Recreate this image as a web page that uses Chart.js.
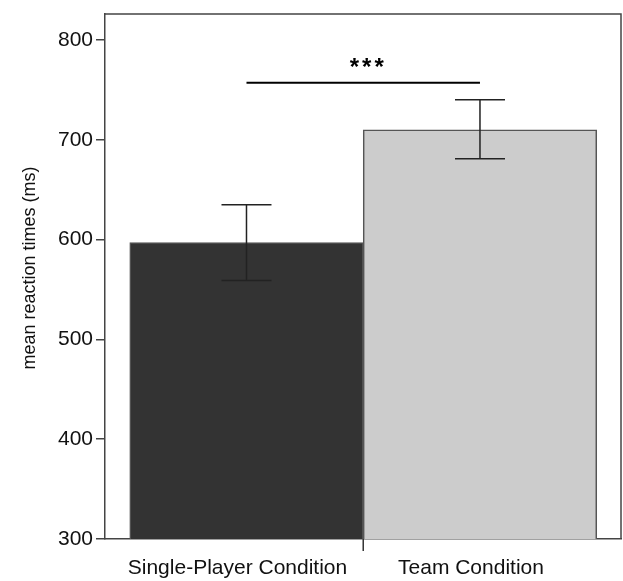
<!DOCTYPE html>
<html>
<head>
<meta charset="utf-8">
<script src="https://cdn.jsdelivr.net/npm/chart.js@4/dist/chart.umd.min.js"></script>
<style>
  html, body { margin: 0; padding: 0; background: #ffffff; }
  #wrap { width: 623px; height: 581px; position: relative; }
</style>
</head>
<body>
<div id="wrap"><canvas id="c" width="623" height="581"></canvas></div>
<script>
// Conditions and mean reaction times (ms) with error-bar limits
const categories = ['Single-Player Condition', 'Team Condition'];
const meanRT = [597, 710];
const errLower = [559, 681];
const errUpper = [635, 740];
const barColors = ['#333333', '#cccccc'];
const yTicks = [300, 400, 500, 600, 700, 800];
const yTitle = 'mean reaction times (ms)';
const sigLabel = '***';
const sigLevel = 757;
const sigLabelLevel = 776;

const FONT = "'Liberation Sans', Arial, Helvetica, sans-serif";
const FRAME = '#444444';

// Error bars, significance bracket, frame, divider tick and rotated axis title
const extras = {
  id: 'extras',
  afterDatasetsDraw(chart) {
    const { ctx, scales: { x, y }, chartArea } = chart;
    ctx.save();
    // error bars
    ctx.strokeStyle = '#222222';
    ctx.lineWidth = 1.5;
    meanRT.forEach((m, i) => {
      const px = x.getPixelForValue(i);
      const top = y.getPixelForValue(errUpper[i]);
      const bot = y.getPixelForValue(errLower[i]);
      ctx.beginPath();
      ctx.moveTo(px, top); ctx.lineTo(px, bot);
      ctx.moveTo(px - 25, top); ctx.lineTo(px + 25, top);
      ctx.moveTo(px - 25, bot); ctx.lineTo(px + 25, bot);
      ctx.stroke();
    });
    // significance line
    const sy = y.getPixelForValue(sigLevel);
    ctx.strokeStyle = '#000000';
    ctx.lineWidth = 2;
    ctx.beginPath();
    ctx.moveTo(x.getPixelForValue(0), sy);
    ctx.lineTo(x.getPixelForValue(1), sy);
    ctx.stroke();
    ctx.fillStyle = '#000000';
    ctx.font = 'bold 24px ' + FONT;
    ctx.letterSpacing = '3px';
    ctx.textAlign = 'center';
    ctx.textBaseline = 'middle';
    ctx.fillText(sigLabel, (x.getPixelForValue(0) + x.getPixelForValue(1)) / 2 + 5, y.getPixelForValue(sigLabelLevel) + 4);
    ctx.letterSpacing = '0px';
    // top and right frame lines
    ctx.strokeStyle = FRAME;
    ctx.lineWidth = 1.5;
    ctx.beginPath();
    ctx.moveTo(chartArea.left, chartArea.top);
    ctx.lineTo(chartArea.right, chartArea.top);
    ctx.lineTo(chartArea.right, chartArea.bottom);
    ctx.stroke();
    // divider tick between the two categories
    const mid = x.getPixelForValue(0.5);
    ctx.strokeStyle = '#333333';
    ctx.beginPath();
    ctx.moveTo(mid, chartArea.bottom);
    ctx.lineTo(mid, chartArea.bottom + 12);
    ctx.stroke();
    // y axis title
    ctx.translate(30, 268);
    ctx.rotate(-Math.PI / 2);
    ctx.font = '18px ' + FONT;
    ctx.fillStyle = '#111111';
    ctx.textAlign = 'center';
    ctx.textBaseline = 'middle';
    ctx.fillText(yTitle, 0, 0);
    ctx.restore();
  }
};

function noScalePadding(scale) {
  scale.paddingTop = 0;
  scale.paddingBottom = 0;
  scale.paddingLeft = 0;
  scale.paddingRight = 0;
}

new Chart(document.getElementById('c'), {
  type: 'bar',
  data: {
    datasets: [{
      data: meanRT.map((v, i) => ({ x: i, y: v })),
      backgroundColor: barColors,
      borderColor: '#555555',
      borderWidth: 1.5,
      barPercentage: 1,
      categoryPercentage: 1
    }]
  },
  options: {
    responsive: false,
    animation: false,
    layout: { padding: { top: 14, right: 2, left: 0, bottom: 0 } },
    plugins: { legend: { display: false }, tooltip: { enabled: false } },
    scales: {
      x: {
        type: 'linear',
        offset: false,
        min: -0.606,
        max: 1.604,
        afterBuildTicks(scale) {
          scale.ticks = [{ value: 0 }, { value: 1 }];
        },
        afterFit(scale) { scale.height = 42; noScalePadding(scale); },
        border: { display: true, color: FRAME, width: 1.5 },
        grid: {
          drawOnChartArea: false,
          drawTicks: true,
          tickLength: 12,
          color: 'rgba(0,0,0,0)'
        },
        ticks: {
          autoSkip: false,
          maxRotation: 0,
          padding: 5,
          labelOffset: -9,
          color: '#111111',
          font: { family: FONT, size: 21 },
          callback: (v) => (v === 0 ? categories[0] : v === 1 ? categories[1] : '')
        }
      },
      y: {
        min: 300,
        max: 826,
        afterBuildTicks(scale) {
          scale.ticks = yTicks.map((v) => ({ value: v }));
        },
        afterFit(scale) { scale.width = 105; noScalePadding(scale); },
        border: { display: true, color: FRAME, width: 1.5 },
        grid: {
          drawOnChartArea: false,
          drawTicks: true,
          tickLength: 9,
          color: FRAME,
          lineWidth: 1.5
        },
        ticks: {
          padding: 3,
          color: '#111111',
          font: { family: FONT, size: 21 }
        }
      }
    }
  },
  plugins: [extras]
});
</script>
</body>
</html>
